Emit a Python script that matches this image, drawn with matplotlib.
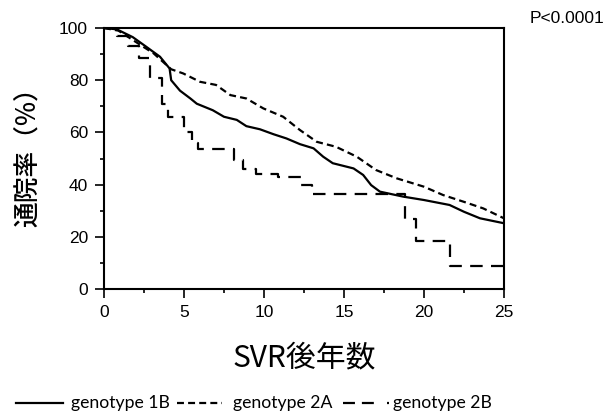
import matplotlib
matplotlib.use('Agg')
import matplotlib.pyplot as plt
from matplotlib.lines import Line2D
from matplotlib.ticker import MultipleLocator

plt.rcParams['font.family'] = ['Liberation Sans', 'Noto Sans CJK JP', 'DejaVu Sans']
plt.rcParams['lines.scale_dashes'] = False

# genotype 1B (solid)
t_1b = [0, 0.8, 1.8, 2.6, 3.5, 4.1, 4.2, 4.75, 5.4, 5.8, 6.8, 7.5, 8.3, 8.9, 9.75, 10.6,
        11.4, 12.25, 13.1, 13.7, 14.3, 15.6, 16.2, 16.7, 17.25, 18.7, 20.0, 21.6, 22.5,
        23.5, 25.0]
v_1b = [100, 99.5, 96.5, 93, 89, 84.5, 80, 76, 73, 71, 68.5, 66, 64.8, 62.4, 61.2, 59.3,
        57.7, 55.5, 53.9, 50.7, 48.2, 46.2, 43.7, 39.8, 37.3, 35.4, 34.1, 32.2, 29.6,
        27.1, 25.2]

# genotype 2A (short dashes)
t_2a = [0, 0.9, 2.46, 3.1, 4.2, 4.95, 6.0, 7.0, 7.9, 8.9, 9.96, 11.2, 12.25, 13.3, 14.5,
        15.8, 17.0, 18.3, 20.0, 21.2, 22.5, 23.7, 25.0]
v_2a = [100, 99, 92.8, 90.3, 84.2, 82.6, 79.4, 78.2, 74.3, 73, 69.2, 66, 60.9, 56.4, 54.5,
        50.7, 45.6, 42.4, 39.2, 36, 33.4, 30.9, 27.1]

# genotype 2B (long dashes, step)
t_2b = [0, 0.8, 1.5, 2.2, 2.9, 3.6, 4.0, 5.0, 5.5, 5.9, 8.1, 8.7, 9.5, 10.9, 12.3, 13.0,
        18.8, 19.5, 21.6, 25.0]
v_2b = [100, 97, 93, 88.5, 81, 71, 66, 60, 56, 53.5, 49.5, 46, 44, 43, 40, 36.4,
        27, 18.5, 9, 9]

labels = ['genotype 1B', 'genotype 2A', 'genotype 2B']
x_ticks = [0, 5, 10, 15, 20, 25]
y_ticks = [0, 20, 40, 60, 80, 100]

style_2a = (0, (5, 3))
style_2b = (0, (9, 6))

fig = plt.figure(figsize=(6.06, 4.12), dpi=100)
ax = fig.add_axes([0.1716, 0.2985, 0.66, 0.6335])

ax.plot(t_1b, v_1b, color='black', lw=1.6)
ax.plot(t_2a, v_2a, color='black', lw=1.6, linestyle=style_2a)
ax.plot(t_2b, v_2b, color='black', lw=1.6, linestyle=style_2b, drawstyle='steps-post')

ax.set_xlim(0, 25)
ax.set_ylim(0, 100)
ax.set_xticks(x_ticks)
ax.set_yticks(y_ticks)
ax.xaxis.set_minor_locator(MultipleLocator(2.5))
ax.yaxis.set_minor_locator(MultipleLocator(10))
ax.tick_params(which='both', direction='out', labelsize=12.5, width=1.2, pad=5)
ax.tick_params(which='major', length=6.5)
ax.tick_params(which='minor', length=3)
for s in ax.spines.values():
    s.set_linewidth(1.5)

ax.set_xlabel('SVR後年数', fontsize=21.5, family=['Noto Sans CJK JP', 'DejaVu Sans'], va='center')
ax.xaxis.set_label_coords(0.5, -0.264)
ax.set_ylabel('通院率（%）', fontsize=18.5, family=['Noto Sans CJK JP', 'DejaVu Sans'],
              va='center', fontweight='medium')
ax.yaxis.set_label_coords(-0.192, 0.529)

fig.text(0.998, 0.955, 'P<0.0001', ha='right', va='center', fontsize=12.5)

# legend drawn along the bottom edge
leg_y = 1 - 403 / 412
handles = [
    ((16, 63), '-', labels[0], 71),
    ((177, 222), style_2a, labels[1], 233),
    ((343, 389), (0, (8.6, 5, 8.6, 9.5, 1.5, 20)), labels[2], 393),
]
for (x0, x1), ls, text, tx in handles:
    fig.add_artist(Line2D([x0 / 606, x1 / 606], [leg_y, leg_y], color='black', lw=1.6,
                          linestyle=ls, transform=fig.transFigure))
    fig.text(tx / 606, leg_y, text, ha='left', va='center', fontsize=12.7,
             family=['Lato', 'DejaVu Sans'])

fig.savefig('out.png', dpi=100)
